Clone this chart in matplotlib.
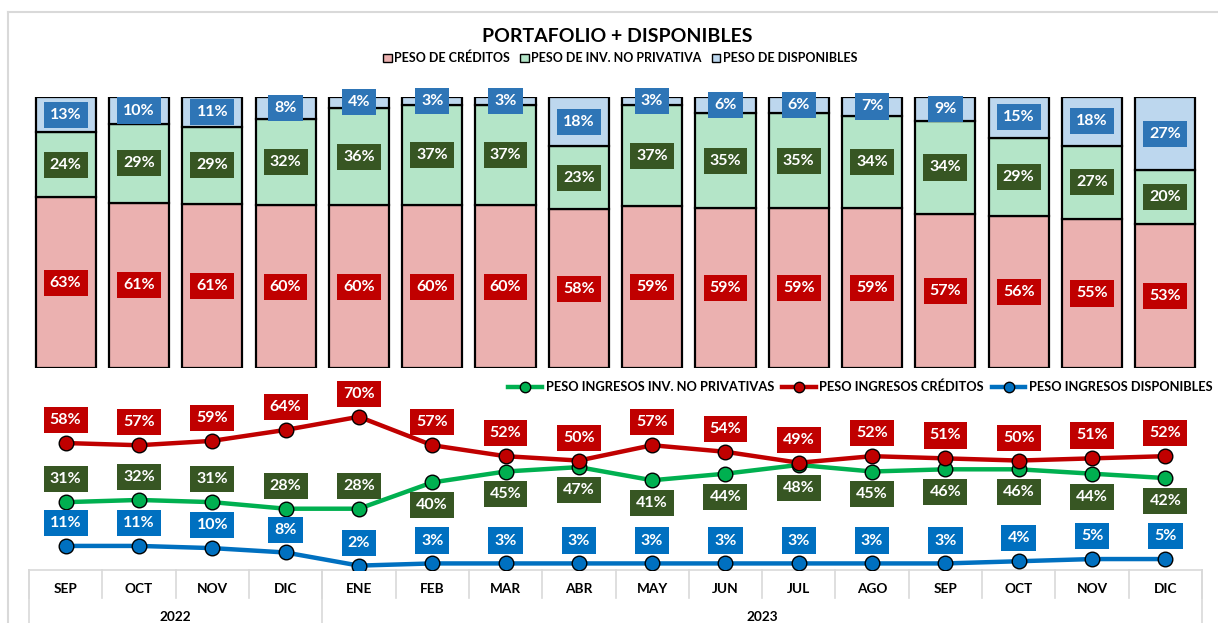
import matplotlib.pyplot as plt
from matplotlib.patches import Patch
from matplotlib.lines import Line2D
import numpy as np

plt.rcParams['font.family'] = ['Lato', 'DejaVu Sans']
plt.rcParams['font.weight'] = 'bold'

meses = ['SEP', 'OCT', 'NOV', 'DIC', 'ENE', 'FEB', 'MAR', 'ABR',
         'MAY', 'JUN', 'JUL', 'AGO', 'SEP', 'OCT', 'NOV', 'DIC']
anios = ['2022', '2023']
meses_por_anio = [4, 12]

# portafolio (%)
peso_creditos = [63, 61, 61, 60, 60, 60, 60, 58, 59, 59, 59, 59, 57, 56, 55, 53]
peso_inv = [24, 29, 29, 32, 36, 37, 37, 23, 37, 35, 35, 34, 34, 29, 27, 20]
peso_disp = [13, 10, 11, 8, 4, 3, 3, 18, 3, 6, 6, 7, 9, 15, 18, 27]

# ingresos (%)
ing_inv = [31, 32, 31, 28, 28, 40, 45, 47, 41, 44, 48, 45, 46, 46, 44, 42]
ing_creditos = [58, 57, 59, 64, 70, 57, 52, 50, 57, 54, 49, 52, 51, 50, 51, 52]
ing_disp = [11, 11, 10, 8, 2, 3, 3, 3, 3, 3, 3, 3, 3, 4, 5, 5]

W, H = 1218, 623
fig = plt.figure(figsize=(W / 100, H / 100), dpi=100)

def box(px_l, px_top, px_r, px_bot):
    return [px_l / W, 1 - px_bot / H, (px_r - px_l) / W, (px_bot - px_top) / H]

ax1 = fig.add_axes(box(29, 97, 1202, 368))
ax2 = fig.add_axes(box(29, 373, 1202, 570))
x = np.arange(len(meses))

# --- barras apiladas ---
c_pink, c_green, c_blue = '#EBB1B0', '#B4E5C8', '#BDD7EE'
tot = np.array(peso_creditos) + np.array(peso_inv) + np.array(peso_disp)
cr = np.array(peso_creditos) / tot * 100
iv = np.array(peso_inv) / tot * 100
ds = np.array(peso_disp) / tot * 100
ax1.bar(x, cr, 0.82, color=c_pink, edgecolor='black', lw=1.6)
ax1.bar(x, iv, 0.82, bottom=cr, color=c_green, edgecolor='black', lw=1.6)
ax1.bar(x, ds, 0.82, bottom=cr + iv, color=c_blue, edgecolor='black', lw=1.6)

def lab(ax, xi, yi, txt, fc, dy=0):
    ax.annotate(txt, (xi, yi), xytext=(0, dy), textcoords='offset points',
                ha='center', va='center', color='white', fontsize=11.5,
                fontweight='bold', zorder=10,
                bbox=dict(boxstyle='square,pad=0.38', fc=fc, ec='none'))

for i in x:
    lab(ax1, i, cr[i] / 2, f'{peso_creditos[i]}%', '#C00000')
    lab(ax1, i, cr[i] + iv[i] / 2, f'{peso_inv[i]}%', '#375623')
    lab(ax1, i, cr[i] + iv[i] + ds[i] / 2, f'{peso_disp[i]}%', '#2E75B6')

ax1.set_xlim(-0.5, len(meses) - 0.5)
ax1.set_ylim(0, 100)
ax1.axis('off')

# --- lineas ---
series = [(ing_inv, '#00B050', '#375623', 'PESO INGRESOS INV. NO PRIVATIVAS'),
          (ing_creditos, '#C00000', '#C00000', 'PESO INGRESOS CRÉDITOS'),
          (ing_disp, '#0070C0', '#0070C0', 'PESO INGRESOS DISPONIBLES')]
handles = []
for vals, col, lc, name in series:
    ax2.plot(x, vals, color=col, lw=3.2, marker='o', ms=10.5, mfc=col,
             mec='black', mew=1, zorder=3)
    handles.append(Line2D([], [], color=col, lw=3.2, marker='o', ms=7.5,
                          mfc=col, mec='black', mew=1, label=name))
    for i in x:
        dy = 16.5
        if col == '#00B050' and i >= 5:
            dy = -16.5
        lab(ax2, i, vals[i], f'{vals[i]}%', lc, dy)

ax2.set_xlim(-0.5, len(meses) - 0.5)
ax2.set_ylim(0, 90)
ax2.axis('off')

# tabla de categorias
tr = ax2.get_xaxis_transform()
gris = '#D9D9D9'
ax2.plot([-0.5, len(meses) - 0.5], [0, 0], color=gris, lw=1.2, transform=tr, clip_on=False)
for k in range(len(meses) + 1):
    ax2.plot([k - 0.5, k - 0.5], [0, -0.142], color=gris, lw=1.2,
             transform=tr, clip_on=False)
for i, m in enumerate(meses):
    ax2.text(i, -0.097, m, transform=tr, ha='center', va='center', fontsize=9.8)
start = 0
for anio, n in zip(anios, meses_por_anio):
    ax2.plot([start - 0.5, start - 0.5], [0, -0.3], color=gris, lw=1.2,
             transform=tr, clip_on=False)
    ax2.text(start + (n - 1) / 2, -0.239, anio, transform=tr, ha='center',
             va='center', fontsize=9.8)
    start += n
ax2.plot([start - 0.5, start - 0.5], [0, -0.3], color=gris, lw=1.2,
         transform=tr, clip_on=False)

# marco exterior
fig.add_artist(Line2D([8 / W, 8 / W], [0, 1 - 12 / H], color=gris, lw=1.5))
fig.add_artist(Line2D([8 / W, 1], [1 - 12 / H, 1 - 12 / H], color=gris, lw=1.5))

fig.text(617 / W, 1 - 37 / H, 'PORTAFOLIO + DISPONIBLES', ha='center',
         va='center', fontsize=14, fontweight='bold')

bar_handles = [Patch(fc=c_pink, ec='black', label='PESO DE CRÉDITOS'),
               Patch(fc=c_green, ec='black', label='PESO DE INV. NO PRIVATIVA'),
               Patch(fc=c_blue, ec='black', label='PESO DE DISPONIBLES')]
fig.legend(handles=bar_handles, loc='center', bbox_to_anchor=(620 / W, 1 - 58 / H),
           ncol=3, frameon=False, fontsize=9, handlelength=0.7, handleheight=0.7,
           handletextpad=0.2, columnspacing=0.8)
fig.legend(handles=handles, loc='center right', bbox_to_anchor=(1, 1 - 387 / H),
           ncol=3, frameon=False, fontsize=9.3, handlelength=2.6,
           handletextpad=0.3, columnspacing=0.6, borderaxespad=0)

fig.savefig('out.png', dpi=100)
